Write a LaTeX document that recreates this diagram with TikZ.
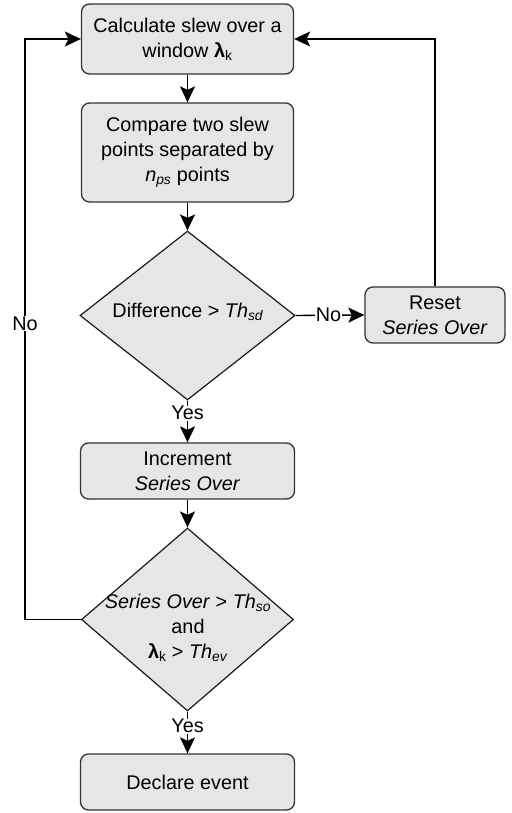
\documentclass[tikz,border=0pt]{standalone}
\usepackage{fontspec}
\setmainfont{Liberation Sans}
\usetikzlibrary{shapes.geometric,arrows.meta}
\newcommand\flowfont{\fontsize{19.8}{25}\selectfont}
\definecolor{boxfill}{HTML}{E6E6E6}
\definecolor{boxline}{HTML}{333333}
\tikzset{
  proc/.style={draw=boxline, fill=boxfill, rounded corners=8pt, line width=1.3pt,
    align=center, inner sep=0pt, font=\flowfont},
  decision/.style={diamond, draw=black!90, fill=boxfill, line width=1.2pt, inner sep=0pt},
  flow/.style={line width=1.4pt, -{Stealth[length=16pt,width=15pt,inset=3.5pt]}},
  lbl/.style={fill=white, inner sep=0.5pt, font=\flowfont},
  txt/.style={align=center, inner sep=0pt, font=\flowfont}
}
\begin{document}
\begin{tikzpicture}[x=1pt, y=-1pt]
\useasboundingbox (0,0) rectangle (511,813);

% process steps
\node[proc, minimum width=212pt, minimum height=70pt] (calc) at (187.5,39)
  {Calculate slew over a\\ window \textbf{λ}\textsubscript{k}};
\node[proc, minimum width=212pt, minimum height=99pt] (comp) at (187.5,152.5)
  {Compare two slew\\ points separated by\\ \textit{n}\textsubscript{\textit{ps}} points};
\node[decision, minimum width=215pt, minimum height=169pt] (diff) at (187.5,315.5) {};
\node[txt] (difft) at (188,312) {Difference > \textit{Th}\textsubscript{\textit{sd}}};
\node[proc, minimum width=140pt, minimum height=56pt] (reset) at (435,315)
  {Reset\\ \textit{Series Over}};
\node[proc, minimum width=214pt, minimum height=56pt] (incr) at (187.5,471)
  {Increment\\ \textit{Series Over}};
\node[decision, minimum width=212pt, minimum height=183pt] (cond) at (187.5,619.5) {};
\node[txt] (condt) at (188,628)
  {\textit{Series Over} > \textit{Th}\textsubscript{\textit{so}}\\ and\\
   \textbf{λ}\textsubscript{k} > \textit{Th}\textsubscript{\textit{ev}}};
\node[proc, minimum width=214pt, minimum height=56pt] (event) at (187.5,782)
  {Declare event};

% connectors
\coordinate (leftrail) at (25,619.5);
\draw[flow] (calc) -- (comp);
\draw[flow] (comp) -- (diff);
\draw[flow] (diff.east) -- node[lbl, pos=0.48] {No} (reset.west);
\draw[flow] (reset.north) |- (calc.east);
\draw[flow] (diff.south) -- node[lbl, pos=0.3] {Yes} (incr.north);
\draw[flow] (incr) -- (cond);
\draw[flow] (cond.west) -- (leftrail) -- node[lbl, pos=0.51] {No} (leftrail |- calc.west) -- (calc.west);
\draw[flow] (cond.south) -- node[lbl, pos=0.35] {Yes} (event.north);
\end{tikzpicture}
\end{document}
